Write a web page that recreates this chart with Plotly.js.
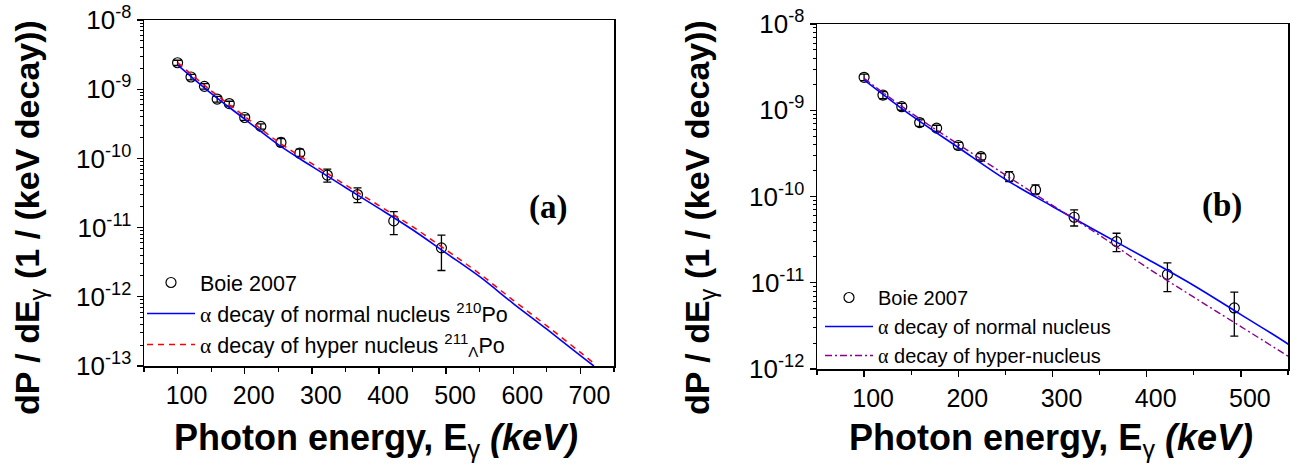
<!DOCTYPE html>
<html>
<head>
<meta charset="utf-8">
<script src="https://cdn.plot.ly/plotly-3.0.1.min.js"></script>
<style>html,body{margin:0;padding:0;background:#fff;}#chart{width:1301px;height:469px;}</style>
</head>
<body>
<div id="chart"></div>
<script>
// Boie 2007 experimental data (photon energy in keV, dP/dE in 1/(keV decay))
const boieE     = [100, 120, 140, 159, 177, 200, 224, 254, 282, 323, 368, 422, 493];
const boieY     = [2.41e-9, 1.50e-9, 1.10e-9, 7.2e-10, 6.2e-10, 3.9e-10, 2.9e-10, 1.70e-10, 1.19e-10, 5.75e-11, 3.0e-11, 1.25e-11, 5.1e-12];
const boieUpper = [2.62e-9, 1.64e-9, 1.20e-9, 7.9e-10, 6.7e-10, 4.25e-10, 3.15e-10, 1.94e-10, 1.36e-10, 7.0e-11, 3.75e-11, 1.70e-11, 7.8e-12];
const boieLower = [2.20e-9, 1.36e-9, 1.00e-9, 6.5e-10, 5.7e-10, 3.55e-10, 2.65e-10, 1.49e-10, 1.07e-10, 4.55e-11, 2.3e-11, 7.9e-12, 2.4e-12];

// theory curves
const curveE   = [100, 150, 200, 250, 300, 350, 400, 450, 500, 550, 600, 650, 700, 720];
const normalY  = [2.25e-9, 8.7e-10, 3.7e-10, 1.58e-10, 7.67e-11, 3.8e-11, 1.9e-11, 9.3e-12, 4.27e-12, 1.95e-12, 8.0e-13, 3.4e-13, 1.41e-13, 1.0e-13];
const hyperPoY = [2.42e-9, 9.5e-10, 4.05e-10, 1.73e-10, 8.4e-11, 4.15e-11, 2.08e-11, 1.03e-11, 4.75e-12, 2.15e-12, 8.9e-13, 3.8e-13, 1.57e-13, 1.1e-13];
const hyperE   = [100, 150, 200, 250, 300, 350, 400, 450, 500, 550];
const hyperY   = [2.34e-9, 9.3e-10, 4.03e-10, 1.78e-10, 7.9e-11, 3.55e-11, 1.51e-11, 6.8e-12, 3.1e-12, 1.41e-12];

// tick labels
const xTicksA = [100, 200, 300, 400, 500, 600, 700];
const xTicksB = [100, 200, 300, 400, 500];
const yExpA = [-13, -12, -11, -10, -9, -8];
const yExpB = [-12, -11, -10, -9, -8];

const FONT = 'Liberation Sans, Arial, sans-serif';
const upErr = boieUpper.map((u, i) => u - boieY[i]);
const dnErr = boieLower.map((l, i) => boieY[i] - l);

function minorVals(exps) {
  const v = [];
  for (let k = 0; k < exps.length - 1; k++)
    for (let m = 2; m <= 9; m++) v.push(m * Math.pow(10, exps[k]));
  return v;
}

function dataTrace(xa, ya, leg) {
  return {
    x: boieE, y: boieY, xaxis: xa, yaxis: ya, legend: leg,
    type: 'scatter', mode: 'markers', name: 'Boie 2007',
    marker: {symbol: 'circle-open', size: 10, color: 'black', line: {width: 1.2, color: 'black'}},
    error_y: {type: 'data', symmetric: false, array: upErr, arrayminus: dnErr,
              color: 'black', thickness: 1.3, width: 4}
  };
}

const alpha = '<span style="font-family:Liberation Serif">α</span>';

const traces = [
  dataTrace('x', 'y', 'legend'),
  {x: curveE, y: normalY, xaxis: 'x', yaxis: 'y', legend: 'legend', type: 'scatter', mode: 'lines',
   name: alpha + ' decay of normal nucleus <sup>210</sup>Po',
   line: {color: '#0000ff', width: 1.6, shape: 'spline'}},
  {x: curveE, y: hyperPoY, xaxis: 'x', yaxis: 'y', legend: 'legend', type: 'scatter', mode: 'lines',
   name: alpha + ' decay of hyper nucleus <sup>211</sup><sub>Λ</sub>Po',
   line: {color: '#ff0000', width: 1.5, dash: '6px,5px', shape: 'spline'}},
  dataTrace('x2', 'y2', 'legend2'),
  {x: curveE, y: normalY, xaxis: 'x2', yaxis: 'y2', legend: 'legend2', type: 'scatter', mode: 'lines',
   name: alpha + ' decay of normal nucleus',
   line: {color: '#0000ff', width: 1.6, shape: 'spline'}},
  {x: hyperE, y: hyperY, xaxis: 'x2', yaxis: 'y2', legend: 'legend2', type: 'scatter', mode: 'lines',
   name: alpha + ' decay of hyper-nucleus',
   line: {color: '#8b008b', width: 1.4, dash: '7px,3px,2px,3px', shape: 'spline'}}
];

function xAxis(dom, rng, ticks, anchor) {
  return {
    domain: dom, range: rng, anchor: anchor, type: 'linear',
    tickmode: 'array', tickvals: ticks, ticktext: ticks.map(String),
    ticks: 'outside', ticklen: 6, tickwidth: 1.3, tickcolor: 'black',
    ticklabelshift: 9,
    minor: {dtick: 50, tick0: 0, ticks: 'outside', ticklen: 4, tickwidth: 1.2, tickcolor: 'black'},
    showline: true, linecolor: 'black', linewidth: 1.5, mirror: true,
    showgrid: false, zeroline: false,
    tickfont: {family: FONT, size: 25, color: 'black'}
  };
}
function yAxis(dom, exps, anchor) {
  return {
    domain: dom, type: 'log', anchor: anchor,
    range: [exps[0], exps[exps.length - 1]],
    tickmode: 'array', tickvals: exps.map(e => Math.pow(10, e)),
    ticktext: exps.map(e => '10<sup>' + e + '</sup>'),
    ticks: 'outside', ticklen: 6, tickwidth: 1.3, tickcolor: 'black',
    minor: {tickmode: 'array', tickvals: minorVals(exps), ticks: 'outside', ticklen: 3, tickwidth: 1, tickcolor: 'black'},
    showline: true, linecolor: 'black', linewidth: 1.5, mirror: true,
    showgrid: false, zeroline: false,
    tickfont: {family: FONT, size: 26, color: 'black'}
  };
}

const W = 1301, H = 469;
const px = v => v / W, py = v => (H - v) / H;

const yTitle = '<b>dP / dE</b><sub>γ</sub><b> (1 / (keV decay))</b>';
const xTitle = '<b>Photon energy, E</b><sub>γ</sub><b><i> (keV)</i></b>';

const layout = {
  width: W, height: H,
  margin: {l: 0, r: 0, t: 0, b: 0},
  paper_bgcolor: 'white', plot_bgcolor: 'white',
  font: {family: FONT, color: 'black'},
  xaxis: xAxis([px(144), px(614)], [50, 750], xTicksA, 'y'),
  yaxis: yAxis([py(366), py(20)], yExpA, 'x'),
  xaxis2: xAxis([px(817), px(1288)], [50, 550], xTicksB, 'y2'),
  yaxis2: yAxis([py(369), py(24)], yExpB, 'x2'),
  legend: {x: px(142), y: py(262), xanchor: 'left', yanchor: 'top', bgcolor: 'rgba(0,0,0,0)',
           itemwidth: 48, font: {family: FONT, size: 21.5, color: 'black'}, tracegroupgap: 0},
  legend2: {x: px(820), y: py(278), xanchor: 'left', yanchor: 'top', bgcolor: 'rgba(0,0,0,0)',
           itemwidth: 48, font: {family: FONT, size: 20, color: 'black'}, tracegroupgap: 0},
  showlegend: true,
  annotations: [
    {text: yTitle, xref: 'paper', yref: 'paper', x: px(30), y: py(218), textangle: -90,
     showarrow: false, xanchor: 'center', yanchor: 'middle', font: {family: FONT, size: 34, color: 'black'}},
    {text: yTitle, xref: 'paper', yref: 'paper', x: px(700), y: py(218), textangle: -90,
     showarrow: false, xanchor: 'center', yanchor: 'middle', font: {family: FONT, size: 34, color: 'black'}},
    {text: xTitle, xref: 'paper', yref: 'paper', x: px(376), y: py(440),
     showarrow: false, xanchor: 'center', yanchor: 'middle', font: {family: FONT, size: 36, color: 'black'}},
    {text: xTitle, xref: 'paper', yref: 'paper', x: px(1051), y: py(440),
     showarrow: false, xanchor: 'center', yanchor: 'middle', font: {family: FONT, size: 36, color: 'black'}},
    {text: '<b>(a)</b>', xref: 'paper', yref: 'paper', x: px(548), y: py(208),
     showarrow: false, xanchor: 'center', yanchor: 'middle', font: {family: 'Liberation Serif, Times New Roman, serif', size: 33, color: 'black'}},
    {text: '<b>(b)</b>', xref: 'paper', yref: 'paper', x: px(1222), y: py(205),
     showarrow: false, xanchor: 'center', yanchor: 'middle', font: {family: 'Liberation Serif, Times New Roman, serif', size: 33, color: 'black'}}
  ]
};

Plotly.newPlot('chart', traces, layout, {staticPlot: true, displayModeBar: false});
</script>
</body>
</html>
